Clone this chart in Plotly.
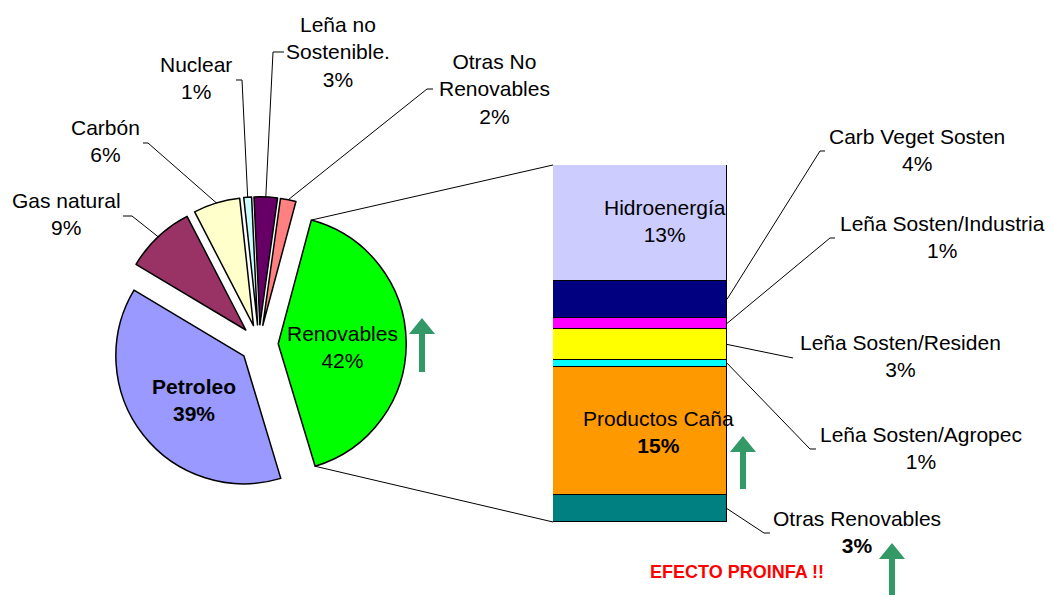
import math
import plotly.graph_objects as go

W, H = 1053, 597

# ---------------- data ----------------
pie_labels = ["Renovables", "Petroleo", "Gas natural", "Carbón", "Nuclear",
              "Leña no Sostenible.", "Otras No Renovables"]
pie_values = [42, 39, 9, 6, 1, 3, 2]
pie_colors = ["#00FF00", "#9999FF", "#993366", "#FFFFCC", "#CCFFFF", "#660066", "#FF8080"]

bar_labels = ["Otras Renovables", "Productos Caña", "Leña Sosten/Agropec",
              "Leña Sosten/Residen", "Leña Sosten/Industria", "Carb Veget Sosten", "Hidroenergía"]
bar_values = [3.0, 14.4, 0.8, 3.4, 1.3, 4.1, 13.0]
bar_pct = ["3%", "15%", "1%", "3%", "1%", "4%", "13%"]
bar_colors = ["#008080", "#FF9900", "#00FFFF", "#FFFF00", "#FF00FF", "#000080", "#CCCCFF"]

note_text = "EFECTO PROINFA !!"

# ---------------- layout geometry (pixels) ----------------
PIE_CX, PIE_CY, PIE_R, PULL, ROT = 259, 344, 128, 0.15, 15
BAR_L, BAR_R, BAR_T, BAR_B = 553, 727, 165, 522
FONT = "Liberation Sans, Arial, sans-serif"
ARROW_COLOR = "#339966"


def pp(x, y):
    return x / W, 1 - y / H


box = 2 * PIE_R * (1 + PULL)
pie_domain = dict(x=[(PIE_CX - box / 2) / W, (PIE_CX + box / 2) / W],
                  y=[(H - PIE_CY - box / 2) / H, (H - PIE_CY + box / 2) / H])

total = sum(pie_values)
starts = []
acc = 0
for v in pie_values:
    starts.append(ROT + 360 * acc / total)
    acc += v
ends = [s + 360 * v / total for s, v in zip(starts, pie_values)]


def slice_pt(i, ang, rad):
    mid = math.radians((starts[i] + ends[i]) / 2)
    ox = PIE_CX + PULL * PIE_R * math.sin(mid)
    oy = PIE_CY - PULL * PIE_R * math.cos(mid)
    a = math.radians(ang)
    return ox + rad * math.sin(a), oy - rad * math.cos(a)


bar_total = sum(bar_values)


def bar_y(v):
    return BAR_B - v / bar_total * (BAR_B - BAR_T)


fig = go.Figure()

fig.add_trace(go.Pie(
    labels=pie_labels, values=pie_values, sort=False, direction="clockwise",
    rotation=ROT, pull=PULL, textinfo="none", hoverinfo="label+percent",
    marker=dict(colors=pie_colors, line=dict(color="black", width=1.5)),
    domain=pie_domain, showlegend=False,
))

for lab, val, col in zip(bar_labels, bar_values, bar_colors):
    fig.add_trace(go.Bar(
        x=[0], y=[val], name=lab, marker=dict(color=col, line=dict(color="black", width=1.5)),
        showlegend=False, hoverinfo="name+y",
    ))

shapes = []
annotations = []


def path_shape(pts, color="black", width=1, fill=None):
    d = "M " + " L ".join(f"{pp(x, y)[0]:.5f},{pp(x, y)[1]:.5f}" for x, y in pts)
    s = dict(type="path", xref="paper", yref="paper", path=d + (" Z" if fill else ""),
             line=dict(color=color, width=width if not fill else 0))
    if fill:
        s["fillcolor"] = fill
    return s


def text_ann(text, x, y, size=21, color="black"):
    px, py = pp(x, y)
    annotations.append(dict(text=text, x=px, y=py, xref="paper", yref="paper",
                            xanchor="center", yanchor="middle", showarrow=False,
                            font=dict(family=FONT, size=size, color=color), align="center"))


# pie labels
pie_display = {"Leña no Sostenible.": "Leña no<br>Sostenible.",
               "Otras No Renovables": "Otras No<br>Renovables"}
pie_label_pos = {
    "Renovables": (342, 347), "Petroleo": (194, 400), "Gas natural": (66, 214),
    "Carbón": (105, 141), "Nuclear": (196, 78), "Leña no Sostenible.": (338, 52),
    "Otras No Renovables": (494, 89),
}
pie_leaders = {  # label end, elbow
    "Gas natural": [(123, 216), (132, 216)],
    "Carbón": [(143, 143), (148, 143)],
    "Nuclear": [(236, 80), (242, 80)],
    "Leña no Sostenible.": [(284, 52), (273, 52)],
    "Otras No Renovables": [(433, 89), (427, 89)],
}
for i, (lab, val) in enumerate(zip(pie_labels, pie_values)):
    t = pie_display.get(lab, lab) + f"<br>{val}%"
    if lab == "Petroleo":
        t = f"<b>{t}</b>"
    x, y = pie_label_pos[lab]
    text_ann(t, x, y)
    if lab in pie_leaders:
        tip = slice_pt(i, (starts[i] + ends[i]) / 2, PIE_R)
        shapes.append(path_shape(pie_leaders[lab] + [tip]))

# connector lines from the Renovables slice to the bar
shapes.append(path_shape([slice_pt(0, starts[0], PIE_R), (BAR_L, BAR_T)]))
shapes.append(path_shape([slice_pt(0, ends[0], PIE_R), (BAR_L, BAR_B)]))

# bar labels
bar_label_pos = {
    "Hidroenergía": (665, 221), "Productos Caña": (658, 432),
    "Carb Veget Sosten": (917, 150), "Leña Sosten/Industria": (942, 237),
    "Leña Sosten/Residen": (900, 356), "Leña Sosten/Agropec": (921, 448),
    "Otras Renovables": (857, 532),
}
bar_leaders = {
    "Carb Veget Sosten": [(820, 151), (825, 151)],
    "Leña Sosten/Industria": [(830, 238), (835, 238)],
    "Leña Sosten/Residen": [(793, 358)],
    "Leña Sosten/Agropec": [(810, 449), (816, 449)],
    "Otras Renovables": [(764, 533), (770, 533)],
}
bold_pct = {"Productos Caña", "Otras Renovables"}
cum = 0
for lab, val, pct in zip(bar_labels, bar_values, bar_pct):
    mid = cum + val / 2
    cum += val
    p = f"<b>{pct}</b>" if lab in bold_pct else pct
    x, y = bar_label_pos[lab]
    text_ann(f"{lab}<br>{p}", x, y)
    if lab in bar_leaders:
        shapes.append(path_shape([(BAR_R, bar_y(mid))] + bar_leaders[lab]))

# green arrows
def arrow(cx, tip, base, bottom, hw=13, sw=3):
    return path_shape([(cx, tip), (cx + hw, base), (cx + sw, base), (cx + sw, bottom),
                       (cx - sw, bottom), (cx - sw, base), (cx - hw, base)],
                      fill=ARROW_COLOR)


shapes.append(arrow(422, 318, 334, 372))
shapes.append(arrow(743, 436, 452, 489))
shapes.append(arrow(892, 543, 559, 595))

text_ann(f"<b>{note_text}</b>", 737, 572, size=18, color="#FF0000")

fig.update_layout(
    width=W, height=H, margin=dict(l=0, r=0, t=0, b=0),
    paper_bgcolor="white", plot_bgcolor="rgba(0,0,0,0)",
    barmode="stack", bargap=0,
    xaxis=dict(domain=[BAR_L / W, BAR_R / W], range=[-0.5, 0.5], visible=False, fixedrange=True),
    yaxis=dict(domain=[(H - BAR_B) / H, (H - BAR_T) / H], range=[0, bar_total], visible=False,
               fixedrange=True),
    shapes=shapes, annotations=annotations,
)

fig.write_html("out.html", config={"displayModeBar": False},
               post_script="document.body.style.margin='0';document.body.style.overflow='hidden';")
